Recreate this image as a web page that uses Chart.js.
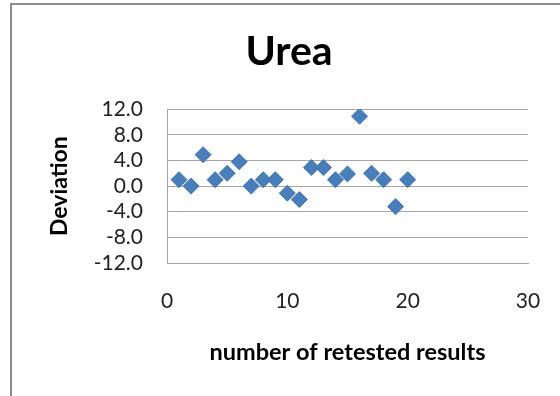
<!DOCTYPE html>
<html>
<head>
<meta charset="utf-8">
<script src="https://cdn.jsdelivr.net/npm/chart.js@4"></script>
<style>
  html, body { margin: 0; padding: 0; background: #fff; }
  #wrap { position: relative; width: 560px; height: 396px; overflow: hidden; }
  #frame { position: absolute; left: 10px; top: 3px; width: 600px; height: 450px;
           border-left: 2px solid #8c8c8c; border-top: 2px solid #8c8c8c; box-sizing: border-box; }
  canvas { position: absolute; left: 0; top: 0; }
</style>
</head>
<body>
<div id="wrap">
  <div id="frame"></div>
  <canvas id="c" width="560" height="396"></canvas>
</div>
<script>
const chartTitle = "Urea";
const xTitle = "number of retested results";
const yTitle = "Deviation";
const retestNumber = [1, 2, 3, 4, 5, 6, 7, 8, 9, 10, 11, 12, 13, 14, 15, 16, 17, 18, 19, 20];
const deviation = [1.0, 0.0, 4.9, 1.0, 2.0, 3.8, 0.0, 1.0, 1.0, -1.1, -2.1, 2.9, 2.9, 1.0, 1.9, 10.9, 2.0, 1.0, -3.2, 1.0];
const xTicks = [0, 10, 20, 30];
const yTicks = [-12, -8, -4, 0, 4, 8, 12];

const points = retestNumber.map((x, i) => ({ x: x, y: deviation[i] }));
const FONT = "Lato, 'Open Sans', sans-serif";
const GRID = "#a6a6a6";

new Chart(document.getElementById("c"), {
  type: "scatter",
  data: {
    datasets: [{
      data: points,
      pointStyle: "rectRot",
      pointRadius: 8,
      pointHoverRadius: 8,
      backgroundColor: "#4a7ebb",
      borderColor: "#4077b5",
      borderWidth: 1
    }]
  },
  options: {
    responsive: false,
    animation: false,
    events: [],
    layout: { padding: { left: 18, right: 0, top: 0, bottom: 0 } },
    plugins: {
      legend: { display: false },
      tooltip: { enabled: false },
      title: {
        display: true,
        text: chartTitle,
        color: "#000",
        font: { family: FONT, size: 41, weight: "bold", lineHeight: 1.2 },
        padding: { top: 27, bottom: 33 }
      }
    },
    scales: {
      x: {
        type: "linear",
        min: xTicks[0],
        max: xTicks[xTicks.length - 1],
        afterBuildTicks: (s) => { s.ticks = xTicks.map(v => ({ value: v })); },
        afterFit: (s) => { s.height = 133; },
        grid: { display: true, drawOnChartArea: false, drawTicks: true, tickLength: 20, tickColor: "rgba(0,0,0,0)" },
        border: { display: true, color: GRID, width: 1 },
        ticks: { autoSkip: false, maxRotation: 0, color: "#222", padding: 6, font: { family: FONT, size: 21, lineHeight: 1.2 } },
        title: {
          display: true, text: xTitle, color: "#000",
          font: { family: FONT, size: 23.5, weight: "bold", lineHeight: 1.2 },
          padding: { top: 0, bottom: 29 }
        }
      },
      y: {
        type: "linear",
        min: yTicks[0],
        max: yTicks[yTicks.length - 1],
        afterBuildTicks: (s) => { s.ticks = yTicks.map(v => ({ value: v })); },
        afterFit: (s) => { s.width = 149; },
        grid: { color: GRID, lineWidth: 1, drawTicks: false },
        border: { display: true, color: GRID, width: 1 },
        ticks: {
          autoSkip: false,
          color: "#222", padding: 24,
          font: { family: FONT, size: 21, lineHeight: 1.2 },
          callback: (v) => Number(v).toFixed(1)
        },
        title: {
          display: true, text: yTitle, color: "#000",
          font: { family: FONT, size: 23, weight: "bold", lineHeight: 1.2 },
          padding: { top: 28, bottom: 0 }
        }
      },
      yRight: {
        type: "linear",
        position: "right",
        display: true,
        afterFit: (s) => { s.width = 32; },
        grid: { display: false, drawTicks: false },
        border: { display: false },
        ticks: { display: false }
      }
    }
  }
});
</script>
</body>
</html>
